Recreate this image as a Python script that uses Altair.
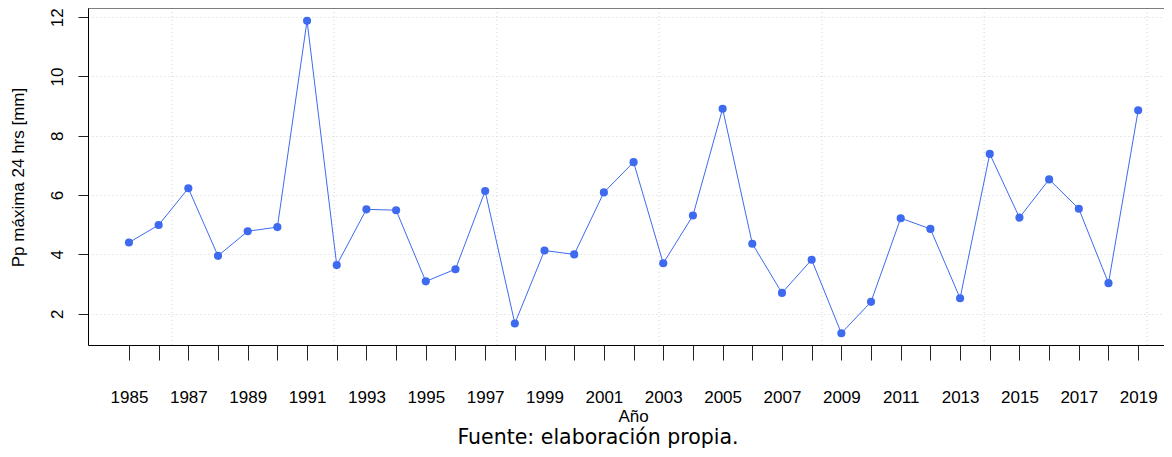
import altair as alt
import pandas as pd

# ---- data ----
years = list(range(1985, 2020))
pp_max = [4.40, 4.99, 6.23, 3.95, 4.78, 4.92, 11.88, 3.64, 5.52, 5.49,
          3.09, 3.50, 6.14, 1.67, 4.13, 4.00, 6.09, 7.11, 3.70, 5.31,
          8.91, 4.36, 2.70, 3.82, 1.34, 2.40, 5.22, 4.86, 2.52, 7.39,
          5.24, 6.53, 5.54, 3.03, 8.86]
y_ticks = [2, 4, 6, 8, 10, 12]
grid_x = [1986.45, 1991.91, 1997.40, 2002.86, 2008.35, 2013.81, 2019.30]
caption = ["Fuente: elaboración propia."]

df = pd.DataFrame({"Año": years, "pp": pp_max})
df_grid = pd.DataFrame({"Año": grid_x})
df_cap = pd.DataFrame({"cap": caption})

W, H = 1076, 337
BLUE = "#3E6AF0"
GRID = "#d3d3d3"
FONT = "Liberation Sans"
INK = "#222222"

x_scale = alt.Scale(domain=[1983.62, 2019.87], nice=False, zero=False)
y_scale = alt.Scale(domain=[0.944, 12.31], nice=False, zero=False)

x_axis = alt.Axis(
    values=years, tickSize=15, tickColor=INK, domainColor="black",
    labelExpr="datum.value % 2 == 1 ? format(datum.value, 'd') : ''",
    labelFont=FONT, labelFontSize=17, labelColor="black",
    labelPadding=29, labelOverlap=False, labelFlush=False, grid=False,
    title="Año", titleFont=FONT, titleFontSize=17, titleFontWeight="normal",
    titleColor="black", titleX=545, titleY=76.5, titleAlign="center",
    titleBaseline="alphabetic",
)
y_axis = alt.Axis(
    values=y_ticks, tickSize=10, tickColor=INK, domainColor="black",
    labelAngle=270, labelAlign="center", labelBaseline="middle",
    labelPadding=21, labelFont=FONT, labelFontSize=17, labelColor="black",
    grid=True, gridDash=[1, 3], gridColor=GRID,
    title="Pp máxima 24 hrs [mm]", titleFont=FONT, titleFontSize=17,
    titleFontWeight="normal", titleColor="black", titleX=-70, titleY=169,
    titleAngle=270, titleAlign="center", titleBaseline="middle",
)

line = alt.Chart(df).mark_line(color=BLUE, strokeWidth=1).encode(
    x=alt.X("Año:Q", scale=x_scale, axis=x_axis),
    y=alt.Y("pp:Q", scale=y_scale, axis=y_axis),
)
vgrid = alt.Chart(df_grid).mark_rule(color=GRID, strokeDash=[1, 3], strokeWidth=1).encode(
    x=alt.X("Año:Q", scale=x_scale, axis=x_axis)
)
points = alt.Chart(df).mark_circle(color=BLUE, size=66, opacity=1).encode(
    x=alt.X("Año:Q", scale=x_scale, axis=x_axis),
    y=alt.Y("pp:Q", scale=y_scale, axis=y_axis),
)
top_frame = alt.Chart(df_cap).mark_rule(color="black", strokeWidth=1).encode(
    x=alt.value(0), x2=alt.value(W), y=alt.value(0)
)
cap_text = alt.Chart(df_cap).mark_text(
    font="DejaVu Sans", fontSize=20.5, color="black", align="center",
    baseline="alphabetic",
).encode(text="cap:N", x=alt.value(510), y=alt.value(435.5))

chart = alt.layer(vgrid, line, points, top_frame, cap_text).properties(
    width=W, height=H,
    padding={"left": 80, "top": 0, "right": 0, "bottom": 104},
    autosize=alt.AutoSizeParams(type="none"),
).configure_view(stroke=None)

chart.save("out.html", embed_options={"renderer": "svg", "actions": False})
